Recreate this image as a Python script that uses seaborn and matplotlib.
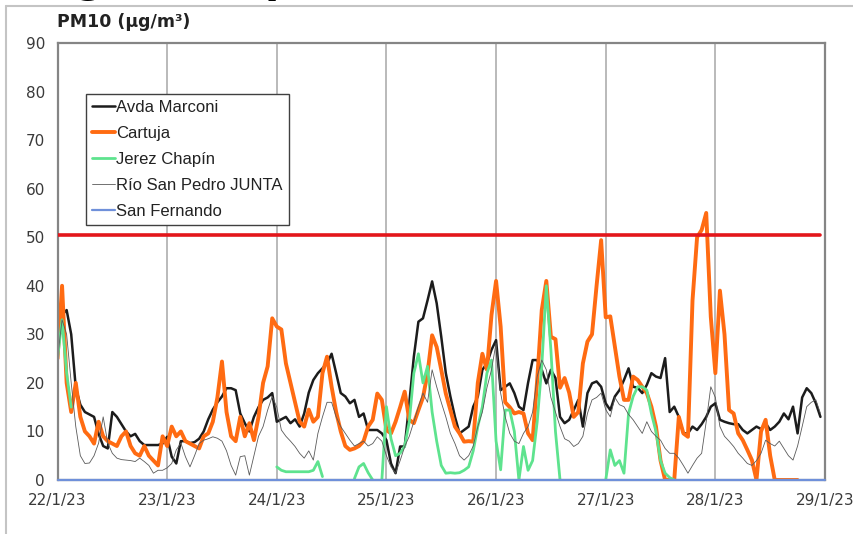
import numpy as np
import pandas as pd
import matplotlib
matplotlib.use("Agg")
import matplotlib.pyplot as plt
from matplotlib.lines import Line2D
import seaborn as sns

# Hourly PM10 readings (µg/m³) from 22/1/23 00:00, one row of 24 values per day
start = "2023-01-22"
day_labels = ["22/1/23", "23/1/23", "24/1/23", "25/1/23",
              "26/1/23", "27/1/23", "28/1/23", "29/1/23"]
y_ticks = [0, 10, 20, 30, 40, 50, 60, 70, 80, 90]
limit_value = 50.5
nan = np.nan

avda_marconi = [
    26, 34, 35, 30, 19, 15.5, 14, 13.5, 13, 9.5, 7, 6.5, 14, 13, 11.5, 10, 9, 9.5, 8, 7.2, 7.2, 7.2, 7.2, 7.5,
    8.9, 4.8, 3.4, 8, 8, 7.6, 7.8, 8.5, 10, 12.5, 14.5, 16, 17.2, 18.9, 18.9, 18.5, 13.7, 11.7, 10, 13, 15, 16.5, 17, 17.9,
    12, 12.5, 13, 11.7, 12.5, 11, 13.7, 18, 20.6, 22, 23, 24, 26, 22, 17.9, 17.2, 15.8, 16.5, 13, 13.7, 10.3, 10.3, 10.3, 9.6,
    8.2, 3.4, 1.4, 6.9, 6.9, 15.8, 25.4, 32.6, 33.3, 37, 40.9, 36.4, 29.5, 22, 17.2, 13, 9.6, 10.3, 11, 15.1, 17.2, 22.7, 24, 26.8,
    28.8, 18.5, 19.2, 19.9, 17.9, 15.1, 14.4, 20, 24.7, 24.7, 22.7, 19.9, 22.7, 21, 13, 11.7, 12.4, 14.4, 16.5, 11, 17.9, 19.9, 20.3, 19.2,
    15.8, 14.4, 17.2, 18.5, 20.6, 23, 19.2, 19, 17.9, 19.6, 22, 21.3, 21, 25.1, 14, 15.1, 13, 9.6, 9.6, 11, 10.3, 11.5, 13, 15.1,
    15.8, 12.4, 12, 11.7, 11.5, 11.5, 10.3, 9.6, 10.3, 11, 10.5, 11.7, 10.3, 11, 12, 13.7, 12.5, 15.1, 9.6, 17, 18.9, 17.9, 15.8, 13,
]

cartuja = [
    25, 40, 20, 14, 20, 13, 10, 9, 7.5, 12, 9, 8, 7.5, 7, 9, 10, 7, 5.5, 5, 7, 5, 4, 3, 9,
    7, 11, 9, 10, 8, 7.5, 7, 6.5, 9, 9.6, 12, 17, 24.4, 14, 9, 8, 13, 9, 11.7, 8.2, 13, 20, 23.4, 33.3,
    31.6, 31, 24, 20, 16, 12, 11, 14.5, 12, 13, 22, 25.4, 19.2, 14, 10, 7, 6.2, 6.5, 7, 8, 11, 12.4, 17.8, 16.5,
    10.3, 9.6, 12, 15, 18.2, 12.4, 11.7, 14.4, 17, 22, 29.8, 27.4, 22.7, 17.8, 14.4, 11, 9.6, 7.9, 8, 7.9, 20, 26, 22.7, 34,
    41, 31.6, 16, 15, 13.7, 14, 13.7, 9.6, 8.2, 20.6, 35, 41, 29.5, 29, 19, 21, 18, 13, 14, 24, 28.5, 30, 40, 49.4,
    33.5, 33.7, 27.5, 21.3, 16.5, 16.5, 21.3, 20.6, 19.2, 17.9, 15.1, 11, 4, 0, 0, 0, 13, 9.6, 8.9, 37, 50, 51.5, 55, 33.6,
    22, 39, 30, 14.4, 13.7, 9.6, 8.2, 6.2, 4.1, 0, 10, 12.4, 5, 0, 0, 0, 0, 0, 0, nan, nan, nan, nan, nan,
]

jerez_chapin = [
    25, 33, 22, 15, nan, nan, nan, nan, nan, nan, nan, nan, nan, nan, nan, nan, nan, nan, nan, nan, nan, nan, nan, nan,
    nan, nan, nan, nan, nan, nan, nan, nan, nan, nan, nan, nan, nan, nan, nan, nan, nan, nan, nan, nan, nan, nan, nan, nan,
    2.7, 2, 1.7, 1.7, 1.7, 1.7, 1.7, 1.7, 2, 3.8, 0.7, nan, nan, nan, nan, nan, nan, 0.3, 2.7, 3.4, 1.5, 0, nan, 0,
    15.1, 8.5, 5, 5.5, 7, 12, 22, 26, 20, 23.4, 14, 8, 3, 1.4, 1.5, 1.4, 1.5, 2, 2.7, 6, 11, 15.1, 22, 24.7,
    8, 2.1, 14.4, 14.4, 10, 0, 6.9, 2, 4, 12, 23.4, 40, 26.8, 10, 0, nan, nan, nan, nan, nan, nan, nan, nan, nan,
    0, 6.2, 3, 4, 1.4, 13.7, 17.2, 19.2, 19.2, 18.5, 13.7, 10, 4, 1.4, 0.5, 0, nan, nan, nan, nan, nan, nan, nan, nan,
    nan, nan, nan, nan, nan, nan, nan, nan, nan, nan, nan, nan, nan, nan, nan, nan, nan, nan, nan, nan, nan, nan, nan, nan,
]

rio_san_pedro = [
    25, 33, 30, 20, 11, 5, 3.4, 3.5, 5, 7.6, 13, 7.6, 5.5, 4.5, 4.2, 4.1, 4, 3.8, 4.5, 3.8, 3, 1.4, 2, 2,
    2.5, 3.4, 6.2, 7.6, 4.8, 2.7, 5, 7.5, 8.2, 8.5, 8.9, 8.6, 8, 6, 3, 1, 4.8, 5, 1, 5, 9, 11, 14.4, 17.2,
    15, 10.3, 9, 8, 6.9, 5.5, 4.5, 6, 4.1, 9.6, 13, 16, 16, 13, 11, 9.6, 8.2, 7, 7.5, 8, 7, 7.5, 8.9, 8,
    5, 2.7, 1.4, 4, 6.9, 9, 12, 15.1, 17.9, 16, 22.7, 19.2, 16, 13, 9.6, 7.5, 5, 4.1, 5, 7, 11, 14, 19, 22.7,
    28.2, 17.9, 13, 9.6, 8, 7.5, 9.6, 11, 14, 21.3, 24.7, 22.7, 17, 14, 11, 8.5, 8, 6.9, 7.5, 9, 13.7, 16.5, 17, 17.9,
    14.5, 13, 17, 15.5, 15.1, 13.5, 12.4, 11, 9.6, 12, 10, 9, 8.2, 6.5, 5.5, 5.5, 4.5, 3, 1.4, 3, 4.5, 5.5, 12, 19.2,
    17, 11, 9, 8, 6.9, 5.5, 4.5, 3.4, 3, 4, 5.5, 8.2, 7.5, 7, 8, 6.5, 5, 4.1, 7, 11, 15.1, 16, 16.5, 13.7,
]

san_fernando = [0.0] * 169

stations = ["Avda Marconi", "Cartuja", "Jerez Chapín", "Río San Pedro JUNTA", "San Fernando"]
readings = [avda_marconi, cartuja, jerez_chapin, rio_san_pedro, san_fernando]
colors = ["#1c1c1c", "#FF6B12", "#5EE38E", "#5a5a5a", "#6F90DA"]
widths = [1.8, 2.8, 2.0, 0.6, 1.6]


def station_frame(name, values):
    times = pd.date_range(start, periods=len(values), freq="h")
    df = pd.DataFrame({"time": times, "value": values})
    valid = df["value"].notna()
    # every unbroken run of readings becomes its own line segment
    df["segment"] = (valid != valid.shift()).cumsum()
    df = df[valid].copy()
    df["station"] = name
    return df


sns.set_theme(style="white")
plt.rcParams["font.family"] = ["DejaVu Sans"]

W, H = 854, 534
fig = plt.figure(figsize=(W / 100, H / 100), dpi=100)
ax = fig.add_axes([57.5 / W, 1 - 480 / H, (825 - 57.5) / W, (480 - 43) / H])

for name, vals, col, lw in zip(stations, readings, colors, widths):
    n_before = len(ax.lines)
    sns.lineplot(data=station_frame(name, vals), x="time", y="value",
                 units="segment", estimator=None, color=col, linewidth=lw,
                 ax=ax, legend=False)
    if name == "San Fernando":
        # the zero baseline sits on the axis frame, keep it on top of it
        for ln in ax.lines[n_before:]:
            ln.set_clip_on(False)
            ln.set_zorder(3)

# daily limit value
ax.axhline(limit_value, xmin=0, xmax=0.9935, color="#E3161B", lw=2.6, zorder=5)

day_ticks = pd.date_range(start, periods=len(day_labels), freq="D")
ax.set_xlim(day_ticks[0], day_ticks[-1])
ax.set_ylim(0, 90)
ax.set_xticks(day_ticks)
ax.set_xticklabels(day_labels)
ax.set_yticks(y_ticks)
ax.set_yticklabels([str(v) for v in y_ticks])
ax.set_xlabel("")
ax.set_ylabel("")

ax.grid(axis="x", color="#b4b4b4", lw=1.3)
ax.grid(axis="y", visible=False)
for sp in ax.spines.values():
    sp.set_color("#858585")
    sp.set_linewidth(1.6)
ax.tick_params(axis="both", direction="out", length=4, width=1, color="#858585",
               labelsize=11, labelcolor="#3a3a3a")
ax.tick_params(axis="y", pad=5)
ax.tick_params(axis="x", pad=5)

handles = [Line2D([0], [0], color=c, lw=lw) for c, lw in zip(colors, widths)]
leg = ax.legend(handles, stations, loc="upper left", bbox_to_anchor=(0.037, 0.884),
                borderaxespad=0, frameon=True, fancybox=False, framealpha=1,
                edgecolor="#404040", handlelength=1.35, handletextpad=0.1,
                borderpad=0.38, labelspacing=0.66,
                prop={"family": "Liberation Sans", "size": 12})
leg.get_frame().set_linewidth(1.0)
for t in leg.get_texts():
    t.set_color("#222222")

fig.text(57 / W, 1 - 22 / H, "PM10 (µg/m³)", ha="left", va="center",
         fontsize=12.5, fontweight="bold", color="#222222")

# heading above the chart frame, mostly cut off by the top edge
fig.text(74 / W, 1 + 8 / H, "g", ha="left", va="baseline",
         fontsize=30, fontweight="bold", color="black")
fig.text(264 / W, 1 + 8 / H, "p", ha="left", va="baseline",
         fontsize=30, fontweight="bold", color="black")

# outer chart-area border
fig.add_artist(Line2D([6 / W, 1], [1 - 6 / H, 1 - 6 / H], transform=fig.transFigure,
                      color="#c4c4c4", lw=1.5))
fig.add_artist(Line2D([6 / W, 6 / W], [0, 1 - 6 / H], transform=fig.transFigure,
                      color="#c4c4c4", lw=1.5))

fig.savefig("out.png", dpi=100)
